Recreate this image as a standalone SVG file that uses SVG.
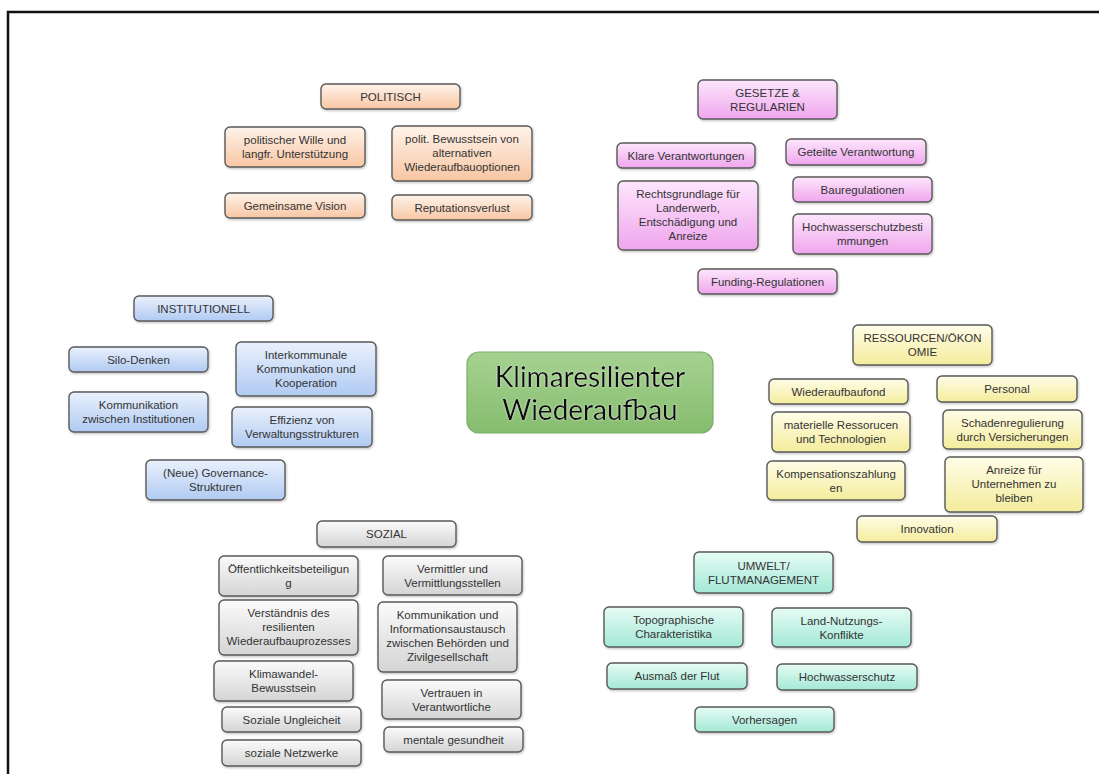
<svg xmlns="http://www.w3.org/2000/svg" width="1099" height="774" viewBox="0 0 1099 774">
<defs>
<linearGradient id="gPol" x1="0" y1="0" x2="0" y2="1"><stop offset="0" stop-color="#fef3ea"/><stop offset="1" stop-color="#f8c6a3"/></linearGradient>
<linearGradient id="gGes" x1="0" y1="0" x2="0" y2="1"><stop offset="0" stop-color="#fde6fc"/><stop offset="1" stop-color="#efa6ee"/></linearGradient>
<linearGradient id="gIns" x1="0" y1="0" x2="0" y2="1"><stop offset="0" stop-color="#eaf1fd"/><stop offset="1" stop-color="#b0caf2"/></linearGradient>
<linearGradient id="gRes" x1="0" y1="0" x2="0" y2="1"><stop offset="0" stop-color="#fffde8"/><stop offset="1" stop-color="#f4ec9c"/></linearGradient>
<linearGradient id="gSoz" x1="0" y1="0" x2="0" y2="1"><stop offset="0" stop-color="#fbfbfb"/><stop offset="1" stop-color="#d4d4d4"/></linearGradient>
<linearGradient id="gUmw" x1="0" y1="0" x2="0" y2="1"><stop offset="0" stop-color="#e6fcf5"/><stop offset="1" stop-color="#a3e8d5"/></linearGradient>
<linearGradient id="gCen" x1="0" y1="0" x2="0" y2="1"><stop offset="0" stop-color="#a6d291"/><stop offset="1" stop-color="#86bd6f"/></linearGradient>
<filter id="sh" x="-10%" y="-10%" width="120%" height="130%"><feDropShadow dx="0.8" dy="1.2" stdDeviation="0.8" flood-color="#000" flood-opacity="0.25"/></filter>
<filter id="glow" x="-5%" y="-20%" width="110%" height="140%"><feDropShadow dx="0" dy="0" stdDeviation="1.2" flood-color="#ffffff" flood-opacity="0.6"/></filter>
</defs>
<style>
.n rect{stroke:#5a5a5a;stroke-width:1.4;filter:url(#sh)}
.pol rect{fill:url(#gPol)}
.ges rect{fill:url(#gGes)}
.ins rect{fill:url(#gIns)}
.res rect{fill:url(#gRes)}
.soz rect{fill:url(#gSoz)}
.umw rect{fill:url(#gUmw)}
.n text{font-family:"Liberation Sans",Arial,sans-serif;font-size:11.5px;fill:#333;text-anchor:middle}
.c rect{fill:url(#gCen);stroke:#79ad63;stroke-width:1.2}
.c text{font-family:Lato,"Open Sans",sans-serif;font-size:28px;fill:#111;text-anchor:middle;filter:url(#glow)}
.frame{stroke:#111;stroke-width:2.5;fill:none}
</style>
<rect width="1099" height="774" fill="#fff"/>
<path class="frame" d="M8,774 V12 H1099"/>
<g id="connectors"/>

<g id="center" class="c"><rect x="467" y="352" width="246" height="81" rx="12"/><text x="590" y="387">Klimaresilienter</text><text x="590" y="420">Wiederaufbau</text></g>

<g id="politisch" class="n pol"><rect x="321" y="84" width="139" height="25" rx="5"/><text x="390.5" y="100.5">POLITISCH</text></g>
<g id="pol-wille" class="n pol"><rect x="225" y="127" width="140" height="40" rx="5"/><text x="295" y="144">politischer Wille und</text><text x="295" y="158">langfr. Unterstützung</text></g>
<g id="pol-bewusstsein" class="n pol"><rect x="392" y="126" width="140" height="55" rx="5"/><text x="462" y="143">polit. Bewusstsein von</text><text x="462" y="157">alternativen</text><text x="462" y="171">Wiederaufbauoptionen</text></g>
<g id="pol-vision" class="n pol"><rect x="225" y="193" width="140" height="25" rx="5"/><text x="295" y="209.5">Gemeinsame Vision</text></g>
<g id="pol-reputation" class="n pol"><rect x="392" y="195" width="140" height="25" rx="5"/><text x="462" y="211.5">Reputationsverlust</text></g>

<g id="gesetze" class="n ges"><rect x="698" y="80" width="139" height="39" rx="5"/><text x="767.5" y="97">GESETZE &amp;</text><text x="767.5" y="111">REGULARIEN</text></g>
<g id="ges-klare" class="n ges"><rect x="617" y="143" width="138" height="25" rx="5"/><text x="686" y="159.5">Klare Verantwortungen</text></g>
<g id="ges-geteilte" class="n ges"><rect x="786" y="139" width="140" height="26" rx="5"/><text x="856" y="156">Geteilte Verantwortung</text></g>
<g id="ges-recht" class="n ges"><rect x="618" y="181" width="140" height="69" rx="5"/><text x="688" y="198">Rechtsgrundlage für</text><text x="688" y="212">Landerwerb,</text><text x="688" y="226">Entschädigung und</text><text x="688" y="240">Anreize</text></g>
<g id="ges-bau" class="n ges"><rect x="793" y="177" width="139" height="25" rx="5"/><text x="862.5" y="193.5">Bauregulationen</text></g>
<g id="ges-hochwasser" class="n ges"><rect x="793" y="214" width="139" height="40" rx="5"/><text x="862.5" y="231">Hochwasserschutzbesti</text><text x="862.5" y="245">mmungen</text></g>
<g id="ges-funding" class="n ges"><rect x="698" y="269" width="139" height="25" rx="5"/><text x="767.5" y="285.5">Funding-Regulationen</text></g>

<g id="institutionell" class="n ins"><rect x="134" y="296" width="139" height="25" rx="5"/><text x="203.5" y="312.5">INSTITUTIONELL</text></g>
<g id="ins-silo" class="n ins"><rect x="69" y="347" width="139" height="25" rx="5"/><text x="138.5" y="363.5">Silo-Denken</text></g>
<g id="ins-interkommunal" class="n ins"><rect x="236" y="342" width="140" height="54" rx="5"/><text x="306" y="359">Interkommunale</text><text x="306" y="373">Kommunkation und</text><text x="306" y="387">Kooperation</text></g>
<g id="ins-kommunikation" class="n ins"><rect x="69" y="392" width="139" height="40" rx="5"/><text x="138.5" y="409">Kommunikation</text><text x="138.5" y="423">zwischen Institutionen</text></g>
<g id="ins-effizienz" class="n ins"><rect x="232" y="407" width="140" height="40" rx="5"/><text x="302" y="424">Effizienz von</text><text x="302" y="438">Verwaltungsstrukturen</text></g>
<g id="ins-governance" class="n ins"><rect x="146" y="460" width="139" height="40" rx="5"/><text x="215.5" y="477">(Neue) Governance-</text><text x="215.5" y="491">Strukturen</text></g>

<g id="ressourcen" class="n res"><rect x="853" y="325" width="139" height="40" rx="5"/><text x="922.5" y="342">RESSOURCEN/ÖKON</text><text x="922.5" y="356">OMIE</text></g>
<g id="res-fond" class="n res"><rect x="769" y="379" width="139" height="25" rx="5"/><text x="838.5" y="395.5">Wiederaufbaufond</text></g>
<g id="res-personal" class="n res"><rect x="937" y="376" width="140" height="26" rx="5"/><text x="1007" y="393">Personal</text></g>
<g id="res-materiell" class="n res"><rect x="772" y="412" width="138" height="40" rx="5"/><text x="841" y="429">materielle Ressorucen</text><text x="841" y="443">und Technologien</text></g>
<g id="res-schaden" class="n res"><rect x="943" y="410" width="139" height="39" rx="5"/><text x="1012.5" y="426.5">Schadenregulierung</text><text x="1012.5" y="440.5">durch Versicherungen</text></g>
<g id="res-kompensation" class="n res"><rect x="767" y="461" width="138" height="39" rx="5"/><text x="836" y="477.5">Kompensationszahlung</text><text x="836" y="491.5">en</text></g>
<g id="res-anreize" class="n res"><rect x="945" y="457" width="138" height="55" rx="5"/><text x="1014" y="474">Anreize für</text><text x="1014" y="488">Unternehmen zu</text><text x="1014" y="502">bleiben</text></g>
<g id="res-innovation" class="n res"><rect x="857" y="516" width="140" height="26" rx="5"/><text x="927" y="533">Innovation</text></g>

<g id="sozial" class="n soz"><rect x="317" y="521" width="139" height="26" rx="5"/><text x="386.5" y="538">SOZIAL</text></g>
<g id="soz-oeffentlichkeit" class="n soz"><rect x="219" y="556" width="139" height="40" rx="5"/><text x="288.5" y="573">Öffentlichkeitsbeteiligun</text><text x="288.5" y="587">g</text></g>
<g id="soz-vermittler" class="n soz"><rect x="383" y="556" width="139" height="39" rx="5"/><text x="452.5" y="572.5">Vermittler und</text><text x="452.5" y="586.5">Vermittlungsstellen</text></g>
<g id="soz-verstaendnis" class="n soz"><rect x="219" y="600" width="139" height="55" rx="5"/><text x="288.5" y="617">Verständnis des</text><text x="288.5" y="631">resilienten</text><text x="288.5" y="645">Wiederaufbauprozesses</text></g>
<g id="soz-kommunikation" class="n soz"><rect x="378" y="602" width="139" height="70" rx="5"/><text x="447.5" y="619">Kommunikation und</text><text x="447.5" y="633">Informationsaustausch</text><text x="447.5" y="647">zwischen Behörden und</text><text x="447.5" y="661">Zivilgesellschaft</text></g>
<g id="soz-klimawandel" class="n soz"><rect x="214" y="661" width="139" height="40" rx="5"/><text x="283.5" y="678">Klimawandel-</text><text x="283.5" y="692">Bewusstsein</text></g>
<g id="soz-ungleichheit" class="n soz"><rect x="222" y="707" width="139" height="25" rx="5"/><text x="291.5" y="723.5">Soziale Ungleicheit</text></g>
<g id="soz-netzwerke" class="n soz"><rect x="222" y="740" width="139" height="26" rx="5"/><text x="291.5" y="757">soziale Netzwerke</text></g>
<g id="soz-vertrauen" class="n soz"><rect x="382" y="680" width="139" height="39" rx="5"/><text x="451.5" y="696.5">Vertrauen in</text><text x="451.5" y="710.5">Verantwortliche</text></g>
<g id="soz-mental" class="n soz"><rect x="384" y="727" width="139" height="25" rx="5"/><text x="453.5" y="743.5">mentale gesundheit</text></g>

<g id="umwelt" class="n umw"><rect x="694" y="552" width="139" height="41" rx="5"/><text x="763.5" y="569.5">UMWELT/</text><text x="763.5" y="583.5">FLUTMANAGEMENT</text></g>
<g id="umw-topo" class="n umw"><rect x="604" y="607" width="139" height="40" rx="5"/><text x="673.5" y="624">Topographische</text><text x="673.5" y="638">Charakteristika</text></g>
<g id="umw-land" class="n umw"><rect x="772" y="608" width="139" height="39" rx="5"/><text x="841.5" y="624.5">Land-Nutzungs-</text><text x="841.5" y="638.5">Konflikte</text></g>
<g id="umw-ausmass" class="n umw"><rect x="607" y="663" width="140" height="26" rx="5"/><text x="677" y="680">Ausmaß der Flut</text></g>
<g id="umw-hochwasser" class="n umw"><rect x="777" y="664" width="140" height="26" rx="5"/><text x="847" y="681">Hochwasserschutz</text></g>
<g id="umw-vorhersagen" class="n umw"><rect x="695" y="707" width="139" height="25" rx="5"/><text x="764.5" y="723.5">Vorhersagen</text></g>
</svg>
